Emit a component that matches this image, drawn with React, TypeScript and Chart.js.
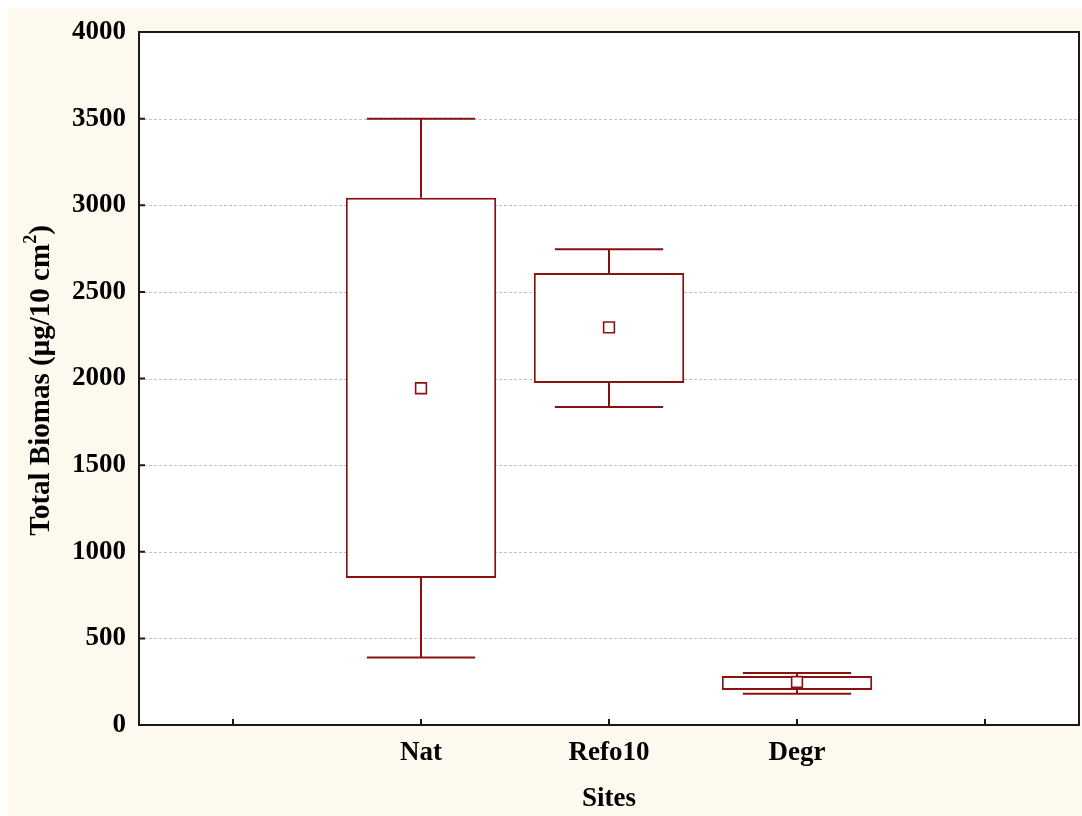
import { useEffect, useRef } from 'react';
import { Chart, registerables } from 'chart.js';

Chart.register(...registerables);

// Sites on the x axis (empty slots pad both ends)
const sites = ['', 'Nat', 'Refo10', 'Degr', ''];
// Box-plot statistics per site, µg/10 cm²
const whiskerLow = [null, 390, 1835, 180, null];
const boxLow = [null, 848, 1974, 202, null];
const means = [null, 1944, 2295, 248, null];
const boxHigh = [null, 3043, 2609, 283, null];
const whiskerHigh = [null, 3500, 2746, 300, null];
// Y axis range
const yMin = 0;
const yMax = 4000;
const yStep = 500;

const RED = '#8b1010';
const FONT = "'Liberation Serif', 'Times New Roman', serif";
const BG = '#fdf9ef';

const framePlugin = {
  id: 'statFrame',
  beforeDraw(chart: any) {
    const { ctx, chartArea: a } = chart;
    ctx.save();
    ctx.fillStyle = BG;
    ctx.fillRect(0, 0, chart.width, chart.height);
    ctx.fillStyle = '#ffffff';
    ctx.fillRect(a.left, a.top, a.right - a.left, a.bottom - a.top);
    ctx.restore();
  },
  beforeDatasetsDraw(chart: any) {
    const { ctx, chartArea: a, scales } = chart;
    const y = scales.y;
    const x = scales.x;
    ctx.save();
    // dotted horizontal grid
    ctx.strokeStyle = '#c4c4c4';
    ctx.lineWidth = 1;
    ctx.setLineDash([3, 2]);
    y.ticks.forEach((t: any) => {
      if (t.value <= yMin || t.value >= yMax) return;
      const py = Math.round(y.getPixelForValue(t.value)) + 0.5;
      ctx.beginPath();
      ctx.moveTo(a.left, py);
      ctx.lineTo(a.right, py);
      ctx.stroke();
    });
    ctx.setLineDash([]);
    // whiskers and caps
    const slot = x.getPixelForValue(1) - x.getPixelForValue(0);
    const capHalf = slot * 0.288;
    ctx.strokeStyle = RED;
    ctx.lineWidth = 2;
    sites.forEach((_, i) => {
      const lo = whiskerLow[i];
      const hi = whiskerHigh[i];
      const q1 = boxLow[i];
      const q3 = boxHigh[i];
      if (lo == null || hi == null || q1 == null || q3 == null) return;
      const px = x.getPixelForValue(i);
      const pLo = y.getPixelForValue(lo);
      const pHi = y.getPixelForValue(hi);
      const p1 = y.getPixelForValue(q1);
      const p3 = y.getPixelForValue(q3);
      ctx.beginPath();
      ctx.moveTo(px, p3);
      ctx.lineTo(px, pHi);
      ctx.moveTo(px - capHalf, pHi);
      ctx.lineTo(px + capHalf, pHi);
      ctx.moveTo(px, p1);
      ctx.lineTo(px, pLo);
      ctx.moveTo(px - capHalf, pLo);
      ctx.lineTo(px + capHalf, pLo);
      ctx.stroke();
    });
    ctx.restore();
  },
  afterDatasetsDraw(chart: any) {
    const { ctx, chartArea: a, scales } = chart;
    const y = scales.y;
    const x = scales.x;
    ctx.save();
    ctx.strokeStyle = '#1a1a1a';
    ctx.lineWidth = 2;
    ctx.strokeRect(a.left, a.top, a.right - a.left, a.bottom - a.top);
    // inward tick marks
    ctx.beginPath();
    y.ticks.forEach((t: any) => {
      const py = y.getPixelForValue(t.value);
      ctx.moveTo(a.left, py);
      ctx.lineTo(a.left + 6, py);
    });
    x.ticks.forEach((t: any, i: number) => {
      const px = x.getPixelForValue(i);
      ctx.moveTo(px, a.bottom);
      ctx.lineTo(px, a.bottom - 6);
    });
    ctx.stroke();
    ctx.restore();
  },
  afterDraw(chart: any) {
    const { ctx, chartArea: a } = chart;
    const big = `bold 29px ${FONT}`;
    const small = `bold 18px ${FONT}`;
    const main = 'Total Biomas (µg/10 cm';
    const sup = '2';
    const close = ')';
    ctx.save();
    ctx.translate(34, (a.top + a.bottom) / 2 + 2);
    ctx.rotate(-Math.PI / 2);
    ctx.fillStyle = '#000';
    ctx.textBaseline = 'middle';
    ctx.textAlign = 'left';
    ctx.font = big;
    const w1 = ctx.measureText(main).width;
    const w3 = ctx.measureText(close).width;
    ctx.font = small;
    const w2 = ctx.measureText(sup).width;
    let tx = -(w1 + w2 + w3) / 2;
    ctx.font = big;
    ctx.fillText(main, tx, 0);
    tx += w1;
    ctx.font = small;
    ctx.fillText(sup, tx, -11);
    tx += w2;
    ctx.font = big;
    ctx.fillText(close, tx, 0);
    ctx.restore();
  },
};

export default function App() {
  const ref = useRef<HTMLCanvasElement>(null);

  useEffect(() => {
    if (!ref.current) return;
    const chart = new Chart(ref.current, {
      type: 'bar',
      data: {
        labels: sites,
        datasets: [
          {
            type: 'line',
            label: 'Mean',
            data: means as any,
            showLine: false,
            pointStyle: 'rect',
            pointRadius: 7.6,
            pointBackgroundColor: '#ffffff',
            pointBorderColor: RED,
            pointBorderWidth: 1.6,
            order: 0,
          },
          {
            type: 'bar',
            label: 'Box',
            data: sites.map((_, i) =>
              boxLow[i] == null || boxHigh[i] == null ? null : [boxLow[i], boxHigh[i]]
            ) as any,
            backgroundColor: '#ffffff',
            borderColor: RED,
            borderWidth: 2,
            borderSkipped: false,
            barPercentage: 0.8,
            categoryPercentage: 1,
            order: 1,
          },
        ],
      },
      options: {
        responsive: false,
        animation: false,
        events: [],
        layout: { autoPadding: false, padding: { top: 24, right: 3, left: 0, bottom: 0 } },
        plugins: {
          legend: { display: false },
          tooltip: { enabled: false },
        },
        scales: {
          x: {
            type: 'category',
            offset: true,
            grid: { display: false, drawTicks: false },
            border: { display: false },
            ticks: {
              padding: 12,
              color: '#000',
              font: { family: FONT, size: 27, weight: 'bold' },
            },
            title: {
              display: true,
              text: 'Sites',
              color: '#000',
              font: { family: FONT, size: 27, weight: 'bold' },
              padding: { top: 0, bottom: 1 },
            },
            afterFit: (s: any) => {
              s.height = 91;
              s.paddingLeft = 0;
              s.paddingRight = 0;
            },
          },
          y: {
            min: yMin,
            max: yMax,
            grid: { display: false, drawTicks: false },
            border: { display: false },
            ticks: {
              stepSize: yStep,
              padding: 13,
              color: '#000',
              font: { family: FONT, size: 27, weight: 'bold' },
              callback: (v: any) => String(v),
            },
            afterFit: (s: any) => {
              s.width = 131;
              s.paddingTop = 0;
              s.paddingBottom = 0;
            },
          },
        },
      },
      plugins: [framePlugin],
    });
    return () => chart.destroy();
  }, []);

  return (
    <div style={{ position: 'absolute', left: 8, top: 8, width: 1074, height: 808, background: BG }}>
      <canvas ref={ref} width={1074} height={808} style={{ display: 'block' }} />
    </div>
  );
}
